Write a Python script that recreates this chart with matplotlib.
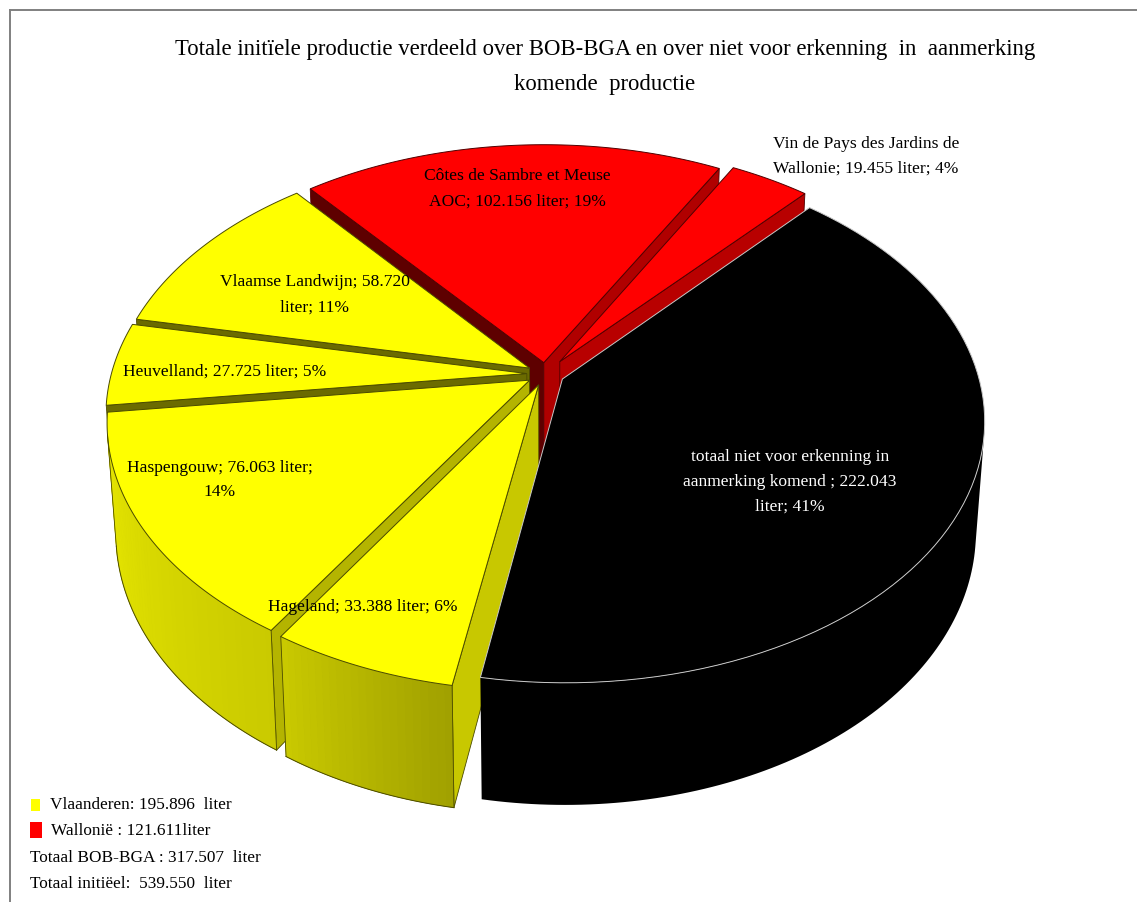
import numpy as np
import matplotlib
matplotlib.use('Agg')
import matplotlib.pyplot as plt
from matplotlib.patches import Polygon, Rectangle

plt.rcParams['font.family'] = ['Liberation Serif', 'DejaVu Serif']

# clockwise from the first slice
slice_values = [222043, 33388, 76063, 27725, 58720, 102156, 19455]
slice_labels = ['totaal niet voor erkenning in\naanmerking komend ; 222.043\nliter; 41%',
                'Hageland; 33.388 liter; 6%',
                'Haspengouw; 76.063 liter;\n14%',
                'Heuvelland; 27.725 liter; 5%',
                'Vlaamse Landwijn; 58.720\nliter; 11%',
                'Côtes de Sambre et Meuse\nAOC; 102.156 liter; 19%',
                'Vin de Pays des Jardins de\nWallonie; 19.455 liter; 4%']
top_colors = ['#000000', '#ffff00', '#ffff00', '#ffff00', '#ffff00', '#ff0000', '#ff0000']
edge_colors = ['#c8c8c8', '#4a4a00', '#4a4a00', '#4a4a00', '#4a4a00', '#500000', '#500000']
start_face_colors = ['#000000', '#c8c800', '#b4b400', '#6b6b00', '#6b6b00', '#5e0000', '#b00000']
end_face_colors = ['#000000', '#c8c800', '#b4b400', '#6b6b00', '#6b6b00', '#b00000', '#b80000']
explode = [0.045, 0.045, 0.045, 0.045, 0.045, 0.045, 0.06]
label_x = [790, 363, 220, 225, 315, 517, 866]
label_y = [482, 607, 480, 372, 295, 189, 156]
label_colors = ['white', 'black', 'black', 'black', 'black', 'black', 'black']
draw_order = [5, 6, 4, 3, 2, 1, 0]

title_lines = 'Totale initïele productie verdeeld over BOB-BGA en over niet voor erkenning  in  aanmerking\nkomende  productie'
legend_lines = ['Vlaanderen: 195.896  liter', 'Wallonië : 121.611liter',
                'Totaal BOB-BGA : 317.507  liter', 'Totaal initiëel:  539.550  liter']
legend_x = [50, 51, 30, 30]
legend_y = [805, 831, 858, 884]

first_angle = 41.8
cx, cy = 545.5, 374
rx, ry = 415.5, 255
persp = 0.155
depth = 108
shrink = 0.98


def project(x, y, bottom=False):
    w = 1 + persp * y
    if bottom:
        return cx + shrink * rx * x / w, cy - shrink * ry * y / w + depth / w
    return cx + rx * x / w, cy - ry * y / w


def rim(t, mid, e, bottom=False):
    # point on the outer circle of a slice pushed out along its middle angle
    t, mid = np.radians(t), np.radians(mid)
    x = np.sin(t) + e * np.sin(mid)
    y = np.cos(t) + e * np.cos(mid)
    return project(x, y, bottom)


def apex(mid, e, bottom=False):
    mid = np.radians(mid)
    return project(e * np.sin(mid), e * np.cos(mid), bottom)


def area(pts):
    p = np.array(pts)
    q = np.roll(p, -1, axis=0)
    return np.sum(p[:, 0] * q[:, 1] - q[:, 0] * p[:, 1])


def wall_color(t, base):
    if base == '#000000':
        return (0, 0, 0)
    s = np.interp(t, [189, 212, 265], [0.62, 0.79, 0.92])
    if base == '#ffff00':
        return (s, s, 0)
    return (s, 0, 0)


fig = plt.figure(figsize=(11.37, 9.02), dpi=100)
ax = fig.add_axes([0, 0, 1, 1])
ax.set_xlim(0, 1137)
ax.set_ylim(902, 0)
ax.axis('off')

# frame round the chart area
ax.plot([10, 10], [902, 10], color='#808080', lw=1.4)
ax.plot([10, 1137], [10, 10], color='#808080', lw=1.4)

sweeps = 360 * np.array(slice_values) / sum(slice_values)
starts = first_angle + np.concatenate([[0], np.cumsum(sweeps)[:-1]])

for i in draw_order:
    t1 = starts[i]
    t2 = t1 + sweeps[i]
    mid = (t1 + t2) / 2
    e = explode[i]
    col = top_colors[i]
    line = edge_colors[i]

    # cut faces, only when they look towards the viewer
    c_top, c_bot = apex(mid, e), apex(mid, e, True)
    face1 = [c_top, rim(t1, mid, e), rim(t1, mid, e, True), c_bot]
    face2 = [c_top, c_bot, rim(t2, mid, e, True), rim(t2, mid, e)]
    if area(face1) < 0:
        ax.add_patch(Polygon(face1, closed=True, fc=start_face_colors[i], ec=line, lw=0.6))
    if area(face2) < 0:
        ax.add_patch(Polygon(face2, closed=True, fc=end_face_colors[i], ec=line, lw=0.6))

    # outer wall in narrow strips so the shading can run along it
    ts = np.linspace(t1, t2, int(sweeps[i]) + 2)
    seen = []
    for a, b in zip(ts[:-1], ts[1:]):
        quad = [rim(a, mid, e), rim(b, mid, e), rim(b, mid, e, True), rim(a, mid, e, True)]
        if area(quad) < 0:
            seen += [a, b]
    if seen:
        seen = np.array(sorted(set(seen)))
        upper = [rim(a, mid, e) for a in seen]
        low = [rim(a, mid, e, True) for a in seen]
        # solid backing keeps the joins between strips from showing
        ax.add_patch(Polygon(upper + low[::-1], closed=True,
                             fc=wall_color(seen.mean(), col), ec='none'))
        if col != '#000000':
            for a, b in zip(seen[:-1], seen[1:]):
                quad = [rim(a, mid, e), rim(b, mid, e), rim(b, mid, e, True), rim(a, mid, e, True)]
                c = wall_color((a + b) / 2, col)
                ax.add_patch(Polygon(quad, closed=True, fc=c, ec=c, lw=0.4))
            ax.plot(*zip(*low), color=line, lw=0.7)
            for a in (seen[0], seen[-1]):
                ax.plot(*zip(rim(a, mid, e), rim(a, mid, e, True)), color=line, lw=0.6)

    # top of the slice
    ts = np.linspace(t1, t2, 80)
    top = [c_top] + [rim(a, mid, e) for a in ts]
    ax.add_patch(Polygon(top, closed=True, fc=col, ec=line, lw=0.7))

for i in range(len(slice_values)):
    ax.text(label_x[i], label_y[i], slice_labels[i], color=label_colors[i], fontsize=12.6,
            ha='center', va='center', linespacing=1.75)

ax.text(605, 67, title_lines, fontsize=16.4, ha='center', va='center', linespacing=1.85)

ax.add_patch(Rectangle((31, 799), 9, 12, fc='#ffff00', ec='none'))
ax.add_patch(Rectangle((30, 822), 12, 16, fc='#ff0000', ec='none'))
for x, y, s in zip(legend_x, legend_y, legend_lines):
    ax.text(x, y, s, fontsize=12.4, ha='left', va='center')

fig.savefig('out.png', dpi=100)
